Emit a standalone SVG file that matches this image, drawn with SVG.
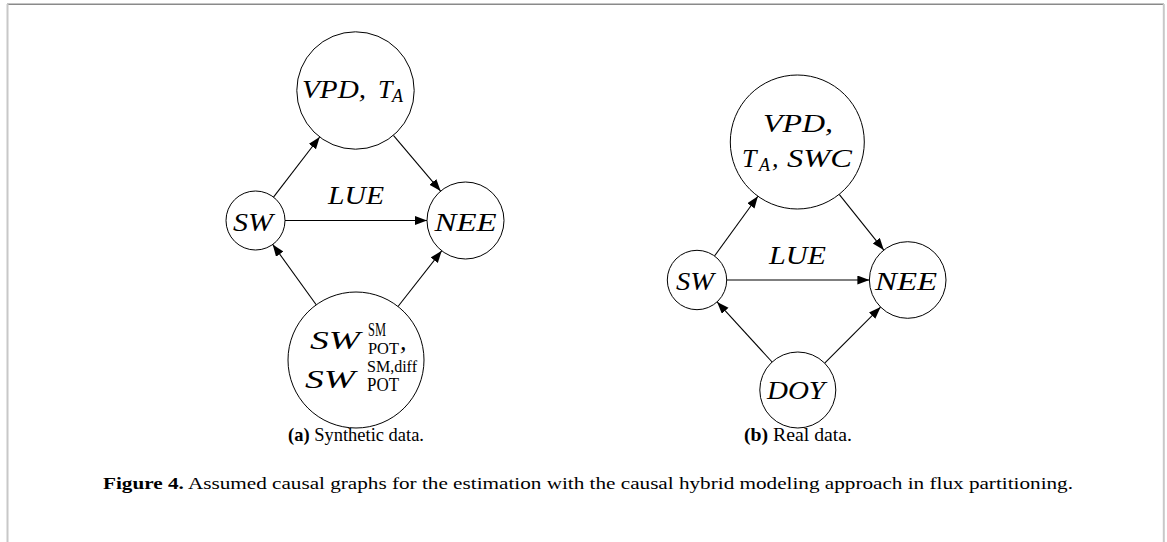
<svg xmlns="http://www.w3.org/2000/svg" width="1167" height="542" viewBox="0 0 1167 542">
<style>
.node{fill:#fff;stroke:#000;stroke-width:1}
.edge{stroke:#000;stroke-width:1.1;fill:none;marker-end:url(#ah)}
text{font-family:'Liberation Serif','Times New Roman',Tinos,serif;fill:#000}
.m{font-style:italic;font-size:26px}
.r{font-size:18px}
.rs{font-size:16px}
.sub{font-style:italic;font-size:18px}
.cap{font-size:19px}
.fig{font-size:17px}
</style>
<defs>
<marker id="ah" markerUnits="userSpaceOnUse" markerWidth="13" markerHeight="10" refX="12" refY="4.5" orient="auto">
<path d="M0,0 L12,4.5 L0,9 z" fill="#000"/>
</marker>
</defs>
<rect width="1167" height="542" fill="#fff"/>
<g id="frame">
<line x1="7" y1="4.3" x2="1164" y2="4.3" stroke="#8a8a8a" stroke-width="1.5"/>
<line x1="7.5" y1="4" x2="7.5" y2="542" stroke="#c8c8c8" stroke-width="2"/>
<line x1="1163.8" y1="4" x2="1163.8" y2="542" stroke="#c8c8c8" stroke-width="2"/>
</g>
<g id="connectors">
<line class="edge" x1="273.5" y1="197.1" x2="319.7" y2="137"/>
<line class="edge" x1="393.4" y1="135.3" x2="440.6" y2="191.1"/>
<line class="edge" x1="285" y1="220.5" x2="427" y2="220.5"/>
<line class="edge" x1="316.2" y1="304.8" x2="272.7" y2="244.4"/>
<line class="edge" x1="398" y1="306.5" x2="441.7" y2="250.8"/>
<line class="edge" x1="714.5" y1="256" x2="757.9" y2="196.2"/>
<line class="edge" x1="839.2" y1="194.3" x2="883.8" y2="250.1"/>
<line class="edge" x1="726.7" y1="280" x2="869.4" y2="280"/>
<line class="edge" x1="772.1" y1="362" x2="717.1" y2="301.9"/>
<line class="edge" x1="824.7" y1="363.1" x2="880.6" y2="307.1"/>
<text class="m" x="328" y="204" textLength="56" lengthAdjust="spacingAndGlyphs">LUE</text>
<text class="m" x="769" y="264" textLength="57" lengthAdjust="spacingAndGlyphs">LUE</text>
</g>
<g id="a-vpd">
<circle class="node" cx="355.5" cy="90.5" r="58.7"/>
<text class="m" x="302" y="98" textLength="64" lengthAdjust="spacingAndGlyphs">VPD,</text>
<text class="m" x="378" y="98">T</text>
<text class="sub" x="392" y="102">A</text>
</g>
<g id="a-sw">
<circle class="node" cx="255.5" cy="220.5" r="29.5"/>
<text class="m" x="233" y="231" textLength="40" lengthAdjust="spacingAndGlyphs">SW</text>
</g>
<g id="a-nee">
<circle class="node" cx="465.5" cy="220.5" r="38.5"/>
<text class="m" x="434.5" y="231" textLength="62" lengthAdjust="spacingAndGlyphs">NEE</text>
</g>
<g id="a-swpot">
<circle class="node" cx="356" cy="360" r="68"/>
<text class="m" x="310" y="349" textLength="50" lengthAdjust="spacingAndGlyphs">SW</text>
<text class="r" x="368" y="336" textLength="18" lengthAdjust="spacingAndGlyphs">SM</text>
<text class="rs" x="368" y="354" textLength="31" lengthAdjust="spacingAndGlyphs">POT</text>
<text class="m" x="400" y="350">,</text>
<text class="m" x="305" y="388" textLength="50" lengthAdjust="spacingAndGlyphs">SW</text>
<text class="rs" x="367" y="372" textLength="50" lengthAdjust="spacingAndGlyphs">SM,diff</text>
<text class="r" x="367" y="391" textLength="32" lengthAdjust="spacingAndGlyphs">POT</text>
</g>
<g id="b-vpd">
<circle class="node" cx="797.3" cy="142" r="67"/>
<text class="m" x="763" y="131.5" textLength="70" lengthAdjust="spacingAndGlyphs">VPD,</text>
<text class="m" x="742" y="167">T</text>
<text class="sub" x="759" y="171">A</text>
<text class="m" x="772" y="167">,</text>
<text class="m" x="787" y="167" textLength="65" lengthAdjust="spacingAndGlyphs">SWC</text>
</g>
<g id="b-sw">
<circle class="node" cx="697" cy="280" r="29.7"/>
<text class="m" x="676" y="290" textLength="38" lengthAdjust="spacingAndGlyphs">SW</text>
</g>
<g id="b-nee">
<circle class="node" cx="907.7" cy="280" r="38.3"/>
<text class="m" x="875" y="290" textLength="62" lengthAdjust="spacingAndGlyphs">NEE</text>
</g>
<g id="b-doy">
<circle class="node" cx="797.8" cy="390" r="38"/>
<text class="m" x="767" y="399" textLength="58" lengthAdjust="spacingAndGlyphs">DOY</text>
</g>
<g id="captions">
<text class="cap" x="288" y="441" textLength="136" lengthAdjust="spacingAndGlyphs"><tspan font-weight="bold">(a)</tspan> Synthetic data.</text>
<text class="cap" x="744" y="441" textLength="108" lengthAdjust="spacingAndGlyphs"><tspan font-weight="bold">(b)</tspan> Real data.</text>
<text class="fig" x="103" y="489" textLength="970" lengthAdjust="spacingAndGlyphs"><tspan font-weight="bold">Figure 4.</tspan> Assumed causal graphs for the estimation with the causal hybrid modeling approach in flux partitioning.</text>
</g>
</svg>
